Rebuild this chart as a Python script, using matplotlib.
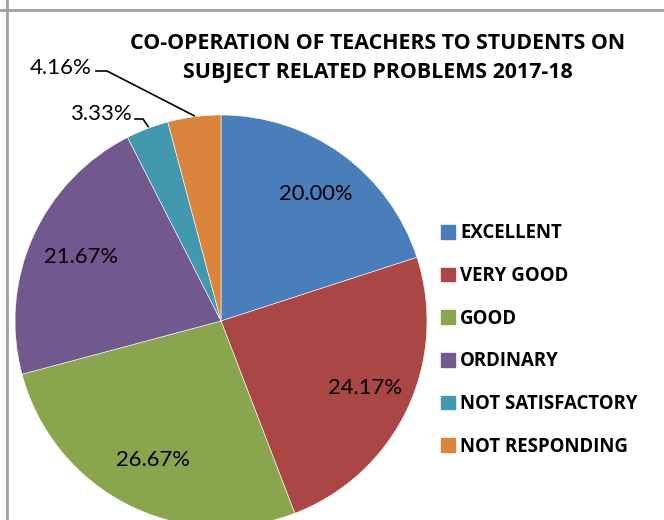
import numpy as np
import matplotlib
matplotlib.use('Agg')
import matplotlib.pyplot as plt
from matplotlib.lines import Line2D

plt.rcParams['font.family'] = ['Lato', 'DejaVu Sans']

categories = ['EXCELLENT', 'VERY GOOD', 'GOOD', 'ORDINARY',
              'NOT SATISFACTORY', 'NOT RESPONDING']
values = [20.00, 24.17, 26.67, 21.67, 3.33, 4.16]
colors = ['#4A7EBB', '#AA4643', '#89A54E', '#71588F', '#4198AF', '#DB843D']
title = 'CO-OPERATION OF TEACHERS TO STUDENTS ON\nSUBJECT RELATED PROBLEMS 2017-18'

W, H = 664, 520
fig = plt.figure(figsize=(W / 100, H / 100), dpi=100)
ax = fig.add_axes([0, 0, 1, 1])

cx, cy, r = 221, H - 321, 206

wedges, _ = ax.pie(values, colors=colors, startangle=90, counterclock=False,
                   center=(cx, cy), radius=r, frame=True,
                   wedgeprops=dict(edgecolor='white', linewidth=0.4))
ax.set_xlim(0, W)
ax.set_ylim(0, H)
ax.axis('off')

# labels inside the big slices, leader lines for the small ones
for i, (w, v) in enumerate(zip(wedges, values)):
    mid = np.deg2rad((w.theta1 + w.theta2) / 2)
    txt = f'{v:.2f}%'
    if v > 10:
        ax.text(cx + 0.76 * r * np.cos(mid) + 3, cy + 0.76 * r * np.sin(mid), txt,
                ha='center', va='center', fontsize=15.8)
    else:
        ex, ey = cx + r * np.cos(mid), cy + r * np.sin(mid)
        if i == 4:
            pts = [(ex + 1, ey + 2), (143, H - 119), (135, H - 119)]
            tx, ty = 132, H - 114
        else:
            pts = [(ex, ey + 1), (107, H - 71), (96, H - 71)]
            tx, ty = 92, H - 68
        xs, ys = zip(*pts)
        ax.plot(xs, ys, color='black', lw=1.2)
        ax.text(tx, ty, txt, ha='right', va='center', fontsize=16)

bold = ['Open Sans', 'DejaVu Sans']
fig.text(378 / W, 1 - 58 / H, title, ha='center', va='center', family=bold,
         fontsize=15.4, fontweight='bold', linespacing=1.45)

handles = [plt.Rectangle((0, 0), 1, 1, color=c) for c in colors]
leg = fig.legend(handles, categories, loc='center left',
                 bbox_to_anchor=(424 / W, 1 - 340 / H), frameon=False,
                 handlelength=0.75, handleheight=0.75, handletextpad=0.3,
                 labelspacing=1.22,
                 prop=dict(family=bold, size=13.4, weight='bold'))

# sheet grid lines
fig.add_artist(Line2D([7 / W, 7 / W], [0, 1], color='#A0A0A0', lw=2))
fig.add_artist(Line2D([0, 1], [1 - 10 / H, 1 - 10 / H], color='#A0A0A0', lw=2))

fig.savefig('out.png', dpi=100)
